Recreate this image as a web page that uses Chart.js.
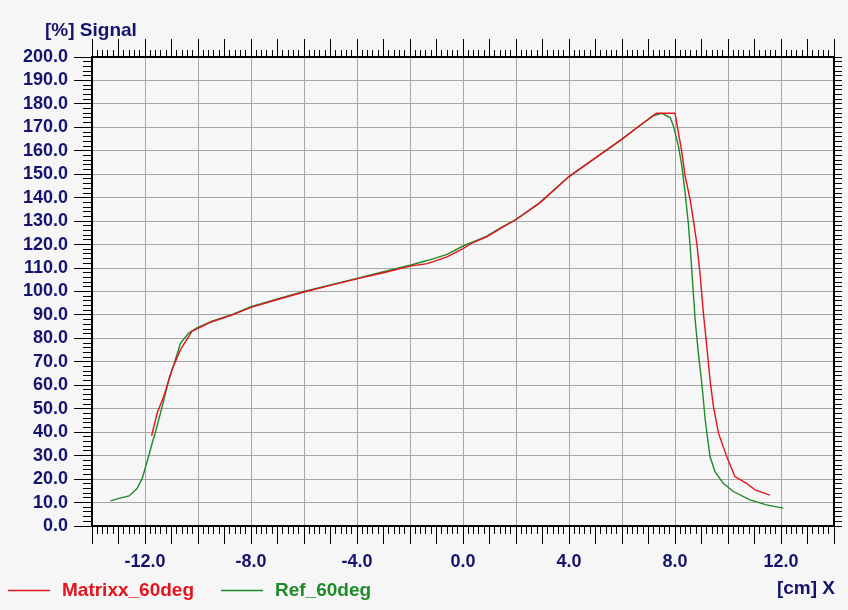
<!DOCTYPE html>
<html>
<head>
<meta charset="utf-8">
<script src="https://cdn.jsdelivr.net/npm/chart.js@4.4.1/dist/chart.umd.min.js"></script>
<style>
  html, body { margin: 0; padding: 0; background: #f6f6f6; }
  #wrap { width: 848px; height: 610px; }
</style>
</head>
<body>
<div id="wrap"><canvas id="profileChart" width="848" height="610"></canvas></div>
<script>
// profile data, x in cm, signal in %
const matrixxX = [-11.75, -11.54, -11.29, -10.98, -10.66, -10.23, -10.0, -9.5, -8.7, -8.0,
    -7.0, -6.0, -5.0, -4.0, -3.0, -2.0, -1.35, -0.6, 0.0, 0.4,
    0.9, 1.4, 2.0, 2.9, 4.0, 5.0, 6.0, 6.7, 7.17, 7.3,
    8.0, 8.13, 8.26, 8.38, 8.57, 8.7, 8.82, 8.95, 9.07, 9.2,
    9.32, 9.45, 9.64, 9.95, 10.26, 10.7, 11.02, 11.58];
const matrixxY = [38.5, 48.2, 55.3, 66.7, 75.2, 83.0, 84.3, 87.0, 90.0, 93.2,
    96.6, 99.8, 102.6, 105.4, 108.0, 110.8, 111.9, 114.8, 118.3, 121.0,
    123.3, 126.8, 130.6, 137.8, 149.0, 157.0, 165.0, 171.0, 175.0, 176.0,
    176.0, 167.8, 159.3, 149.3, 139.3, 130.0, 120.8, 107.0, 90.9, 76.6,
    62.4, 51.0, 39.6, 29.6, 21.1, 18.2, 15.4, 13.2];

const refX = [-13.3, -12.98, -12.6, -12.3, -12.1, -11.92, -11.73, -11.6, -11.35, -11.1,
    -10.85, -10.66, -10.35, -10.04, -9.5, -8.7, -8.0, -7.0, -6.0, -5.0,
    -4.0, -3.0, -2.0, -1.35, -0.6, 0.0, 0.4, 0.9, 1.4, 2.0,
    2.9, 4.0, 5.0, 6.0, 6.7, 7.17, 7.5, 7.82, 7.94, 8.13,
    8.26, 8.38, 8.5, 8.57, 8.64, 8.7, 8.76, 8.88, 9.01, 9.14,
    9.32, 9.51, 9.82, 10.2, 10.83, 11.45, 12.08];
const refY = [10.7, 11.8, 12.8, 16.0, 20.4, 27.5, 35.3, 40.3, 51.0, 62.4,
    71.0, 78.0, 82.3, 84.5, 87.3, 90.2, 93.5, 96.8, 100.0, 102.8,
    105.6, 108.4, 111.2, 113.2, 115.8, 119.4, 121.3, 123.6, 127.0, 130.8,
    137.9, 149.0, 157.0, 165.0, 171.0, 174.9, 176.0, 174.2, 170.6, 162.0,
    153.5, 142.2, 129.4, 119.4, 108.0, 98.0, 88.0, 73.8, 61.0, 45.3,
    29.6, 23.2, 18.2, 14.7, 11.1, 9.0, 7.6];

const seriesNames = ['Matrixx_60deg', 'Ref_60deg'];

const xRange = [-14, 14];
const yRange = [0, 200];

const NAVY = '#14146e';
const RED = '#e3141c';
const GREEN = '#1e8a2a';
const GRID = '#a6a6a6';
const tickFont = { family: 'Liberation Sans', size: 18, weight: 'bold' };

function toPoints(xs, ys) {
    return xs.map((x, i) => ({ x: x, y: ys[i] }));
}

// tenths helper so float ticks compare cleanly
function tenths(v) {
    return Math.abs(Math.round(v * 10));
}

// minor ticks are drawn as the inner part of a long tick by dashing
function xGrid(outerFirst) {
    return {
        drawOnChartArea: !outerFirst,
        color: ctx => (tenths(ctx.tick.value) % 20 === 0 ? GRID : 'rgba(0,0,0,0)'),
        lineWidth: 1,
        tickColor: '#000',
        tickWidth: 1,
        tickLength: 18,
        tickBorderDash: ctx => {
            if (tenths(ctx.tick.value) % 10 === 0) return [];
            return outerFirst ? [0, 11, 7, 100] : [7, 100];
        }
    };
}

// axis captions and the legend row under the plot
const captions = {
    id: 'captions',
    afterDraw(chart) {
        const ctx = chart.ctx;
        const area = chart.chartArea;
        ctx.save();
        ctx.font = 'bold 19px "Liberation Sans"';
        ctx.textBaseline = 'middle';
        ctx.fillStyle = NAVY;
        ctx.textAlign = 'left';
        ctx.fillText('[%] Signal', area.left - 47, area.top - 26);
        ctx.textAlign = 'right';
        ctx.fillText('[cm] X', area.right + 1, area.bottom + 63);

        ctx.textAlign = 'left';
        const rowY = area.bottom + 64.5;
        let x = 8;
        chart.data.datasets.forEach(ds => {
            ctx.strokeStyle = ds.borderColor;
            ctx.lineWidth = 1.4;
            ctx.beginPath();
            ctx.moveTo(x, rowY);
            ctx.lineTo(x + 42, rowY);
            ctx.stroke();
            ctx.fillStyle = ds.borderColor;
            ctx.fillText(ds.label, x + 54, rowY);
            x += 54 + ctx.measureText(ds.label).width + 27;
        });
        ctx.restore();
    }
};

const chartCtx = document.getElementById('profileChart').getContext('2d');

const profileChart = new Chart(chartCtx, {
    type: 'scatter',
    data: {
        datasets: [{
            label: seriesNames[0],
            data: toPoints(matrixxX, matrixxY),
            showLine: true,
            borderColor: RED,
            backgroundColor: RED,
            borderWidth: 1.4,
            pointRadius: 0,
            tension: 0
        }, {
            label: seriesNames[1],
            data: toPoints(refX, refY),
            showLine: true,
            borderColor: GREEN,
            backgroundColor: GREEN,
            borderWidth: 1.4,
            pointRadius: 0,
            tension: 0
        }]
    },
    options: {
        responsive: false,
        animation: false,
        layout: { padding: 0 },
        plugins: {
            tooltip: { enabled: false },
            title: { display: false },
            legend: { display: false }
        },
        scales: {
            x: {
                type: 'linear',
                position: 'bottom',
                min: xRange[0],
                max: xRange[1],
                afterFit: s => { s.height = 84; },
                border: { color: '#000', width: 2 },
                grid: xGrid(false),
                ticks: {
                    stepSize: 0.2,
                    autoSkip: false,
                    maxRotation: 0,
                    padding: 7,
                    color: NAVY,
                    font: tickFont,
                    callback: v => (tenths(v) % 40 === 0 ? v.toFixed(1) : '')
                }
            },
            x2: {
                type: 'linear',
                position: 'top',
                min: xRange[0],
                max: xRange[1],
                afterFit: s => { s.height = 57; },
                border: { color: '#000', width: 2 },
                grid: xGrid(true),
                ticks: { stepSize: 0.2, autoSkip: false, display: false }
            },
            y: {
                type: 'linear',
                position: 'left',
                min: yRange[0],
                max: yRange[1],
                afterFit: s => { s.width = 92; },
                border: { color: '#000', width: 2 },
                grid: {
                    color: ctx => (Math.round(ctx.tick.value) % 10 === 0 ? GRID : 'rgba(0,0,0,0)'),
                    lineWidth: 1,
                    tickColor: '#000',
                    tickWidth: 1,
                    tickLength: 18,
                    tickBorderDash: ctx => (Math.round(ctx.tick.value) % 10 === 0 ? [] : [0, 9, 9, 100])
                },
                ticks: {
                    stepSize: 2,
                    autoSkip: false,
                    padding: 6,
                    color: NAVY,
                    font: tickFont,
                    callback: v => (Math.round(v) % 10 === 0 ? v.toFixed(1) : '')
                }
            },
            y2: {
                type: 'linear',
                position: 'right',
                min: yRange[0],
                max: yRange[1],
                afterFit: s => { s.width = 14; },
                border: { color: '#000', width: 2 },
                grid: {
                    drawOnChartArea: false,
                    tickColor: '#000',
                    tickWidth: 1,
                    tickLength: 8
                },
                ticks: { stepSize: 2, autoSkip: false, display: false }
            }
        }
    },
    plugins: [captions]
});
</script>
</body>
</html>
